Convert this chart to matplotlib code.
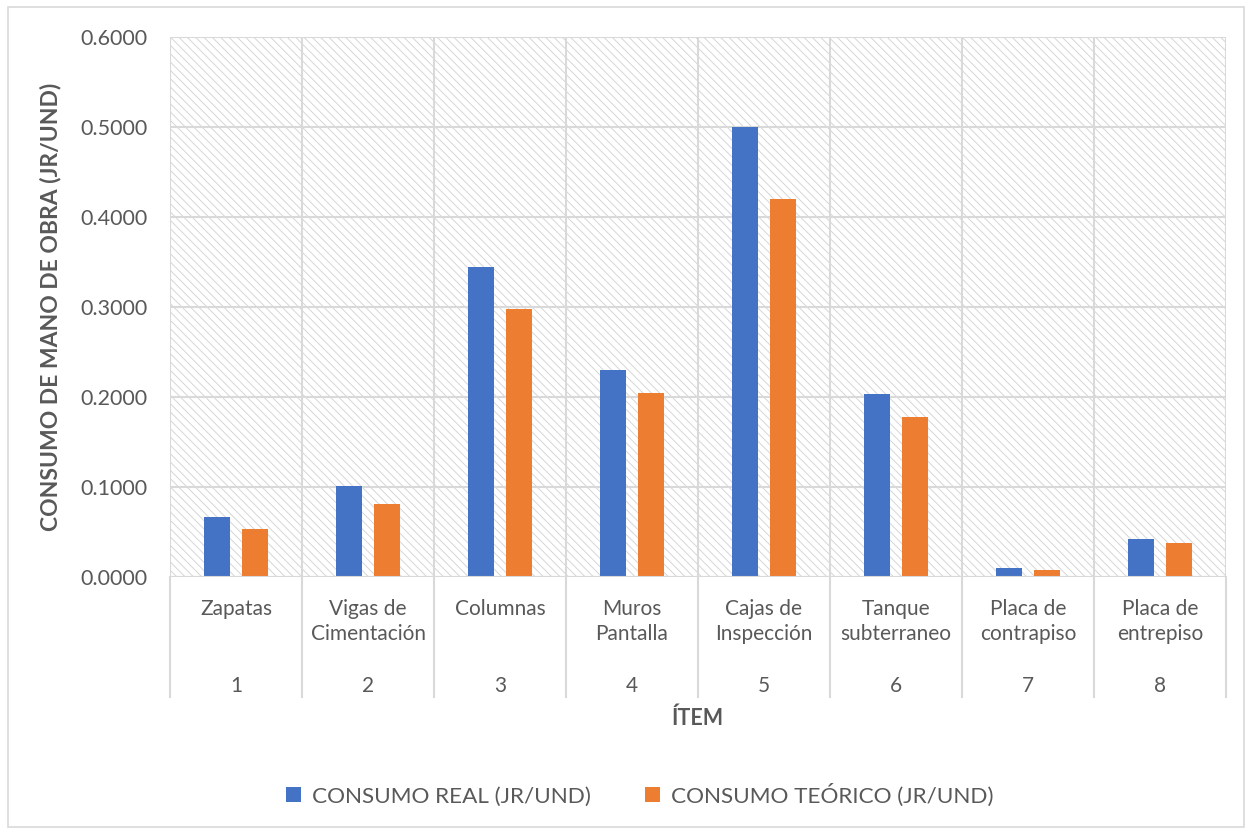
import matplotlib.pyplot as plt
import numpy as np
from matplotlib.patches import Rectangle
from matplotlib.ticker import FormatStrFormatter

plt.rcParams['font.family'] = ['Lato', 'DejaVu Sans']

items = ['1', '2', '3', '4', '5', '6', '7', '8']
categorias = ['Zapatas', 'Vigas de\nCimentación', 'Columnas', 'Muros\nPantalla',
              'Cajas de\nInspección', 'Tanque\nsubterraneo', 'Placa de\ncontrapiso',
              'Placa de\nentrepiso']
consumo_real = [0.0665, 0.1015, 0.3445, 0.2300, 0.5005, 0.2035, 0.0095, 0.0420]
consumo_teorico = [0.0530, 0.0815, 0.2975, 0.2045, 0.4200, 0.1780, 0.0078, 0.0378]

azul = '#4472C4'
naranja = '#ED7D31'
gris = '#D9D9D9'
texto = '#595959'

fig = plt.figure(figsize=(12.52, 8.30), dpi=100)
ax = fig.add_axes([0.1358, 0.3048, 0.8434, 0.6506])

# fondo rayado
plt.rcParams['hatch.linewidth'] = 0.7
fondo = Rectangle((0, 0), 1, 1, transform=ax.transAxes, facecolor='white',
                  edgecolor='#D6D6D6', hatch='\\\\\\\\', linewidth=0, zorder=0)
ax.add_patch(fondo)

x = np.arange(len(items))
ancho = 0.197
ax.bar(x - 0.144, consumo_real, ancho, color=azul, label='CONSUMO REAL (JR/UND)', zorder=3)
ax.bar(x + 0.144, consumo_teorico, ancho, color=naranja, label='CONSUMO TEÓRICO (JR/UND)', zorder=3)

ax.set_xlim(-0.5, len(items) - 0.5)
ax.set_ylim(0, 0.6)
ax.set_yticks(np.arange(0, 0.61, 0.1))
ax.yaxis.set_major_formatter(FormatStrFormatter('%.4f'))
ax.tick_params(axis='y', length=0, labelsize=15.5, labelcolor=texto, pad=16)
ax.set_xticks([])
ax.grid(axis='y', color=gris, linewidth=1.5, zorder=1)
for b in np.arange(-0.5, len(items), 1.0):
    ax.axvline(b, color=gris, linewidth=1.5, zorder=1)
for s in ax.spines.values():
    s.set_visible(False)
ax.axhline(0, color=gris, linewidth=1.5, zorder=4)

# eje de categorias en dos niveles
trans = ax.get_xaxis_transform()
for b in np.arange(-0.5, len(items), 1.0):
    ax.plot([b, b], [0, -0.222], color=gris, linewidth=1.5, transform=trans, clip_on=False)
for i in range(len(items)):
    ax.text(x[i], -0.041, categorias[i], transform=trans, ha='center', va='top',
            fontsize=15, color=texto, linespacing=1.3)
    ax.text(x[i], -0.202, items[i], transform=trans, ha='center', va='center',
            fontsize=15, color=texto)

ax.text(0.5, -0.261, 'ÍTEM', transform=ax.transAxes, ha='center', va='center',
        fontsize=15.5, fontweight='bold', color=texto)
fig.text(0.040, 0.6298, 'CONSUMO DE MANO DE OBRA (JR/UND)', rotation=90, ha='center',
         va='center', fontsize=16.5, fontweight='bold', color=texto)

fig.legend(loc='center', bbox_to_anchor=(0.511, 0.042), ncol=2, frameon=False,
           fontsize=16.2, labelcolor=texto, handlelength=0.65, handleheight=0.65,
           columnspacing=2.4, handletextpad=0.5)

fig.patches.append(Rectangle((0.006, 0.004), 0.988, 0.987, transform=fig.transFigure,
                             fill=False, edgecolor=gris, linewidth=1.2))

plt.savefig('out.png', dpi=100)
